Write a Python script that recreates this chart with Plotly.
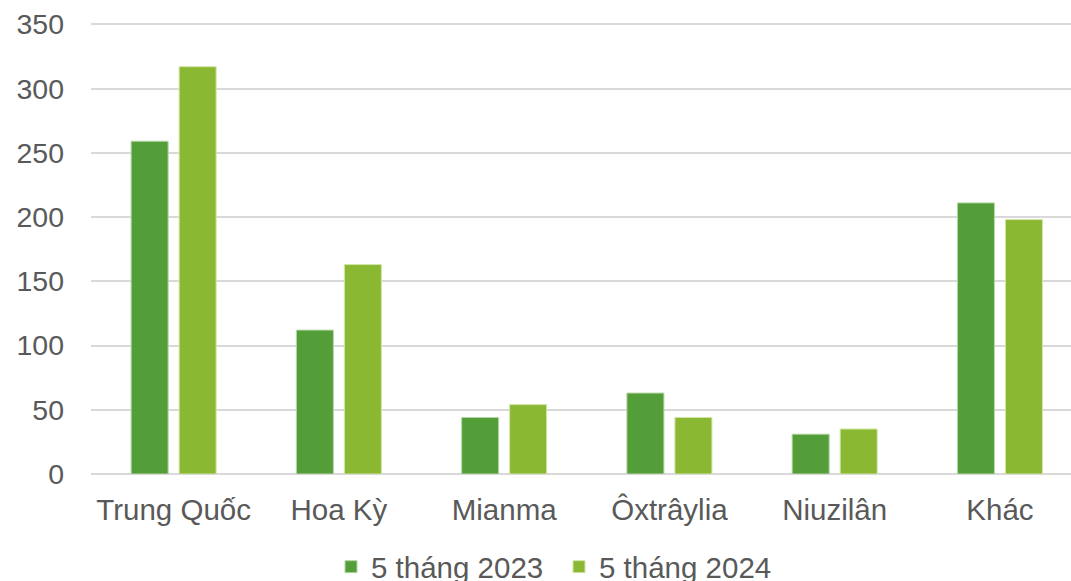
import plotly.graph_objects as go

categories = ["Trung Quốc", "Hoa Kỳ", "Mianma", "Ôxtrâylia", "Niuzilân", "Khác"]
series_2023 = [259, 112, 44, 63, 31, 211]
series_2024 = [317, 163, 54, 44, 35, 198]
series_names = ["5 tháng 2023", "5 tháng 2024"]
y_ticks = [0, 50, 100, 150, 200, 250, 300, 350]

FONT = "Liberation Sans, Arial, sans-serif"
TXT = "#595959"

fig = go.Figure()
fig.add_trace(go.Bar(
    x=categories, y=series_2023, name=series_names[0],
    marker=dict(color="#549E39", line=dict(color="#b5d6a8", width=1)),
))
fig.add_trace(go.Bar(
    x=categories, y=series_2024, name=series_names[1],
    marker=dict(color="#8AB833", line=dict(color="#d2e6a6", width=1)),
))

fig.update_layout(
    width=1071, height=581,
    margin=dict(l=91, r=0, t=23, b=106.5, autoexpand=False),
    paper_bgcolor="white", plot_bgcolor="white",
    barmode="group", bargap=0.419, bargroupgap=0.229,
    font=dict(family=FONT, size=28.5, color=TXT),
    showlegend=True,
    legend=dict(
        orientation="h", xref="container", yref="container",
        x=331 / 1071, xanchor="left", y=14 / 581, yanchor="middle",
        font=dict(family=FONT, size=29.5, color=TXT),
        bgcolor="rgba(0,0,0,0)", itemwidth=30, traceorder="normal",
        entrywidth=183,
    ),
    xaxis=dict(
        range=[-0.5, 5.43], showgrid=False, zeroline=False, automargin=False,
        showline=False, ticks="", ticklabelstandoff=15,
        tickfont=dict(size=29.5, color=TXT),
    ),
    yaxis=dict(
        range=[0, 351], tickvals=y_ticks, showgrid=True, automargin=False,
        gridcolor="#d9d9d9", gridwidth=1.5, zeroline=True,
        zerolinecolor="#d9d9d9", zerolinewidth=1.5, showline=False,
        ticks="", ticklabelstandoff=26, tickfont=dict(size=28.5, color=TXT),
    ),
)

fig.write_html(
    "out.html",
    config={"displayModeBar": False},
    post_script="document.body.style.margin='0';document.body.style.overflow='hidden';",
)
